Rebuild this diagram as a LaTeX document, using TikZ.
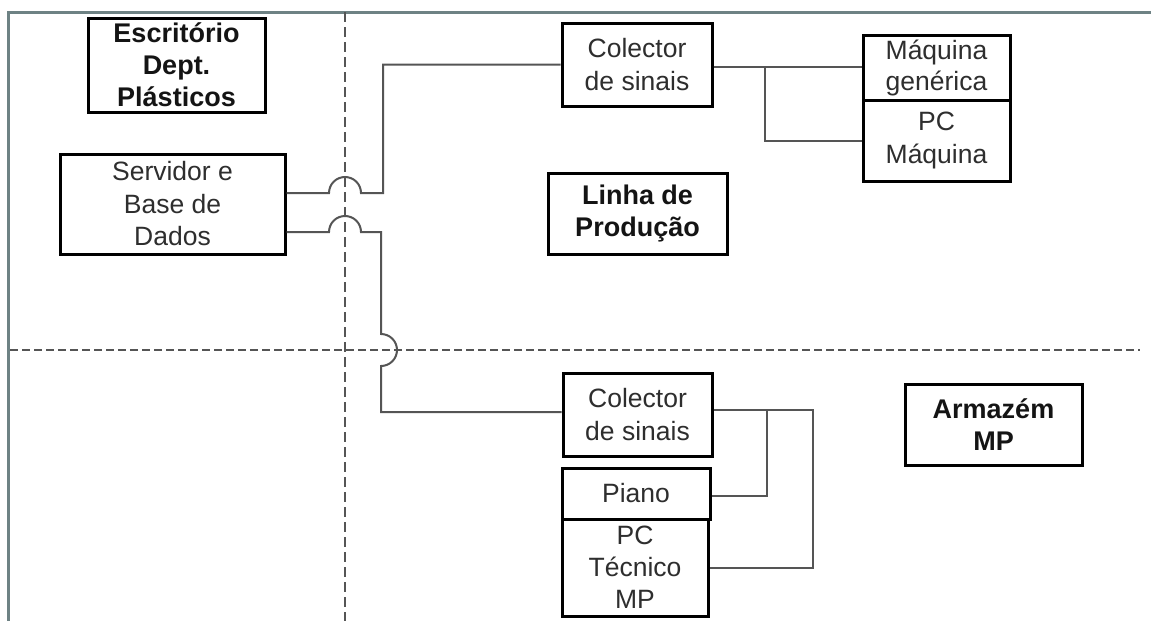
\documentclass[tikz,border=0pt]{standalone}
\usepackage{fontspec}
\setmainfont{Liberation Sans}
\definecolor{framec}{HTML}{6E8284}
\definecolor{wirec}{HTML}{555555}
\definecolor{txtc}{HTML}{2E2E2E}
\tikzset{
  unit/.style={draw=black, line width=3pt, inner sep=0pt, align=center,
    text=txtc, font=\fontsize{26.5}{32.5}\selectfont},
  zone/.style={unit, text=black!92, font=\bfseries\fontsize{27}{32}\selectfont},
  wire/.style={draw=wirec, line width=2pt},
  divider/.style={draw=wirec, line width=2pt, dash pattern=on 10pt off 5pt},
  hdivider/.style={draw=wirec, line width=2.2pt, dash pattern=on 8pt off 4pt},
  frameline/.style={draw=framec, line width=3pt}
}
\begin{document}
\begin{tikzpicture}[x=1pt,y=-1pt]
\useasboundingbox (0,0) rectangle (1151,621);
\fill[white] (0,0) rectangle (1151,621);

% outer frame (top and left edges)
\coordinate (fTL) at (8,12);
\coordinate (fTR) at (1151,12);
\coordinate (fBL) at (8,621);
\draw[frameline] (fTR) -- (fTL) -- (fBL);

% area dividers
\coordinate (vTop) at (345,12);
\coordinate (vBot) at (345,621);
\coordinate (hL) at (10,350);
\coordinate (hR) at (1140,350);
\draw[divider] (vTop) -- (vBot);
\draw[hdivider] (hL) -- (hR);

% zone labels
\node[zone, minimum width=177pt, minimum height=94pt] (esc) at (176.5,65) {Escrit\'orio\\Dept.\\Pl\'asticos};
\node[zone, minimum width=179pt, minimum height=81pt] (linha) at (637.5,213.5) {Linha de\\Produ\c{c}\~ao};
\node[zone, minimum width=177pt, minimum height=81pt] (arm) at (993.5,424.5) {Armaz\'em\\MP};

% equipment
\node[unit, minimum width=225pt, minimum height=100pt] (srv) at (172.5,204) {Servidor e\\Base de\\Dados};
\node[unit, minimum width=150pt, minimum height=83pt] (col1) at (637,64.5) {Colector\\de sinais};
\node[unit, minimum width=147pt, minimum height=65pt, font=\fontsize{26.5}{31}\selectfont] (maq) at (936.5,67.5) {M\'aquina\\gen\'erica};
\node[unit, minimum width=147pt, minimum height=81pt] (pcm) at (936.5,140.5) {PC\\M\'aquina};
\node[unit, minimum width=149pt, minimum height=83pt] (col2) at (637.5,414.5) {Colector\\de sinais};
\node[unit, minimum width=148pt, minimum height=51pt] (piano) at (636,493.5) {Piano};
\node[unit, minimum width=146pt, minimum height=97pt, font=\fontsize{26.5}{32}\selectfont] (pct) at (635,567.5) {PC\\T\'ecnico\\MP};

% server to production line collector (hop over the divider)
\draw[wire] (srv.east |- 0,193) -- (329,193) arc (180:360:16) -- (383,193) |- (col1.west);

% server to warehouse collector (two hops)
\draw[wire] (srv.east |- 0,232) -- (329,232) arc (180:360:16) -- (381,232)
  -- (381,334) arc (270:450:16) -- (381,412) -- (col2.west |- 0,412);

% production line collector to machines
\coordinate (b1) at (765,67);
\draw[wire] (col1.east |- b1) -- (maq.west |- b1);
\draw[wire] (b1) |- (pcm.west |- 0,141);

% warehouse collector to piano and technician PC
\coordinate (b2) at (767,410);
\coordinate (b3) at (813,410);
\draw[wire] (col2.east |- b2) -- (b3) |- (pct.east |- 0,568);
\draw[wire] (b2) |- (piano.east |- 0,496);
\end{tikzpicture}
\end{document}
